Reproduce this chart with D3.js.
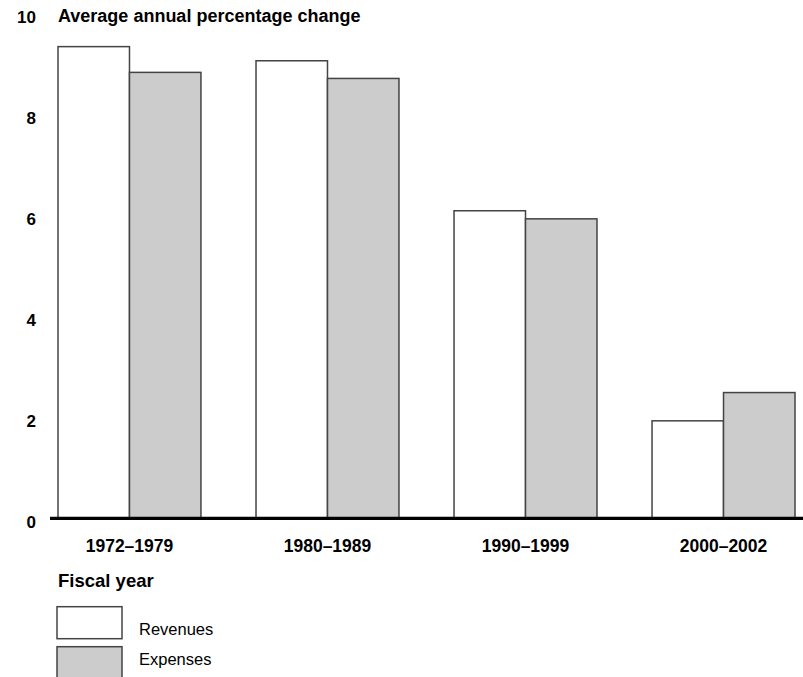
<!DOCTYPE html>
<html>
<head>
<meta charset="utf-8">
<script src="https://cdn.jsdelivr.net/npm/d3@7"></script>
<style>
  body { margin: 0; background: #fff; }
  svg { display: block; font-family: 'Liberation Sans', Arial, Helvetica, sans-serif; }
</style>
</head>
<body>
<svg id="chart"></svg>
<script>
const periods = ['1972–1979', '1980–1989', '1990–1999', '2000–2002']
const revenues = [9.34, 9.06, 6.09, 1.93]
const expenses = [8.83, 8.71, 5.93, 2.49]
const seriesNames = ['Revenues', 'Expenses']
const yTicks = [0, 2, 4, 6, 8, 10]

const width = 803
const height = 677
const margin = { top: 13.3, left: 58, right: 8 }
const baseY = 518.3
const fills = { Revenues: '#ffffff', Expenses: '#cccccc' }

const svg = d3.select('#chart').attr('width', width).attr('height', height)

const yScale = d3.scaleLinear().domain([0, 10]).range([baseY, margin.top])

const xScale = d3
  .scaleBand()
  .domain(periods)
  .range([margin.left, width - margin.right])
  .paddingInner(0.278)
  .paddingOuter(0)

const xSub = d3
  .scaleBand()
  .domain(seriesNames)
  .range([0, xScale.bandwidth()])

const rows = periods.map((p, i) => ({
  period: p,
  values: [
    { key: 'Revenues', value: revenues[i] },
    { key: 'Expenses', value: expenses[i] },
  ],
}))

// bars
const groups = svg
  .append('g')
  .selectAll('g')
  .data(rows)
  .enter()
  .append('g')
  .attr('transform', (d) => `translate(${xScale(d.period)},0)`)

groups
  .selectAll('rect')
  .data((d) => d.values)
  .enter()
  .append('rect')
  .attr('x', (d) => xSub(d.key))
  .attr('width', xSub.bandwidth())
  .attr('y', (d) => yScale(d.value))
  .attr('height', (d) => baseY - yScale(d.value))
  .attr('fill', (d) => fills[d.key])
  .attr('stroke', '#444')
  .attr('stroke-width', 1.5)

// y axis labels
const axisY = d3.axisLeft(yScale).tickValues(yTicks).tickSize(0).tickPadding(4)
const gy = svg
  .append('g')
  .attr('transform', 'translate(40,0)')
  .call(axisY)
gy.select('.domain').remove()
gy.selectAll('text')
  .attr('dy', '0.55em')
  .style('font-size', '17px')
  .style('font-weight', 'bold')
  .attr('fill', '#000')

// x axis labels
const axisX = d3.axisBottom(xScale).tickSize(0).tickPadding(21)
const gx = svg
  .append('g')
  .attr('transform', `translate(0,${baseY})`)
  .call(axisX)
gx.select('.domain').remove()
gx.selectAll('text')
  .style('font-size', '17.5px')
  .style('font-weight', 'bold')
  .attr('fill', '#000')

// baseline
svg
  .append('line')
  .attr('x1', 50)
  .attr('x2', width)
  .attr('y1', baseY)
  .attr('y2', baseY)
  .attr('stroke', '#000')
  .attr('stroke-width', 3.3)

// title
svg
  .append('text')
  .attr('x', 58)
  .attr('y', 21.5)
  .style('font-size', '18px')
  .style('font-weight', 'bold')
  .text('Average annual percentage change')

// x title
svg
  .append('text')
  .attr('x', 58)
  .attr('y', 587)
  .style('font-size', '18.5px')
  .style('font-weight', 'bold')
  .text('Fiscal year')

// legend
const legend = svg
  .append('g')
  .selectAll('g')
  .data(seriesNames)
  .enter()
  .append('g')

legend
  .append('rect')
  .attr('x', 57)
  .attr('y', (d, i) => 606.7 + i * 40)
  .attr('width', 65)
  .attr('height', 32)
  .attr('fill', (d) => fills[d])
  .attr('stroke', '#444')
  .attr('stroke-width', 1.5)

legend
  .append('text')
  .attr('x', 139)
  .attr('y', (d, i) => 635 + i * 30)
  .style('font-size', '16.5px')
  .text((d) => d)
</script>
</body>
</html>
